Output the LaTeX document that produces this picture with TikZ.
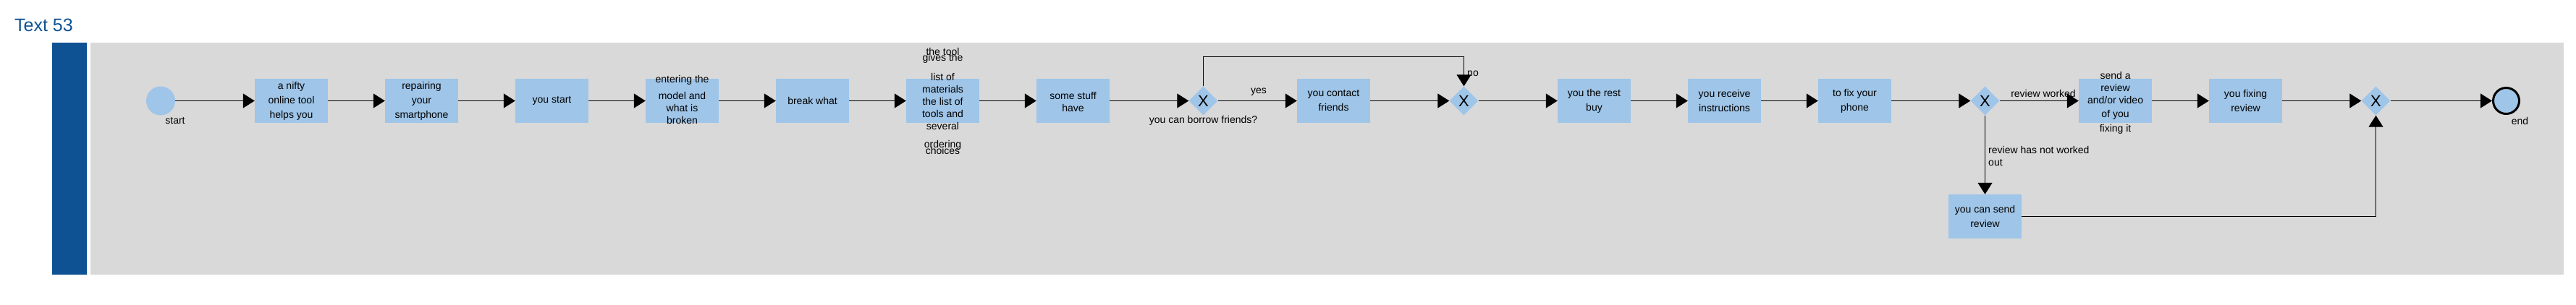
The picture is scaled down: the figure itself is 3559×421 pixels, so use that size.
\documentclass[tikz,border=0pt]{standalone}
\usepackage{fontspec}
\setmainfont{Liberation Sans}
\usetikzlibrary{shapes.geometric,arrows.meta}
\definecolor{taskblue}{HTML}{9FC5E8}
\definecolor{poolgray}{HTML}{D9D9D9}
\definecolor{lanebar}{HTML}{0F5294}
\newcommand\boxfont{\fontsize{14pt}{20pt}\selectfont}
\newcommand\lblfont{\fontsize{14pt}{17pt}\selectfont}
\begin{document}
\begin{tikzpicture}[x=1pt,y=-1pt,
  task/.style={fill=taskblue, draw=none, minimum width=101pt, minimum height=61pt, inner sep=0pt},
  boxtext/.style={align=center, font=\boxfont, text=black, inner sep=0pt},
  gw/.style={diamond, fill=taskblue, draw=none, minimum width=40pt, minimum height=40pt, inner sep=0pt, font=\fontsize{22pt}{22pt}\selectfont},
  flow/.style={line width=1.2pt, draw=black, -{Triangle[length=16pt,width=20pt]}},
  lbl/.style={font=\lblfont, inner sep=0pt, text=black},
  startev/.style={circle, fill=taskblue, draw=none, minimum size=40pt, inner sep=0pt},
  endev/.style={circle, fill=taskblue, draw=black, line width=3pt, minimum size=36pt, inner sep=0pt}]
\useasboundingbox (0,0) rectangle (3559,421);
% title, lane bar, pool
\node[anchor=base west, text=lanebar, font=\fontsize{25pt}{30pt}\selectfont, inner sep=0pt] (title) at (20,43) {Text 53};
\fill[lanebar] (72,59) rectangle (120,380);
\fill[poolgray] (125,59) rectangle (3542,380);
% events
\node[startev] (start) at (222,139.5) {};
\node[lbl] (startlbl) at (242,167) {start};
\node[endev] (end) at (3462.5,139.5) {};
\node[lbl] (endlbl) at (3481.5,167) {end};
% tasks
\node[task, label={[boxtext]center:{a nifty\\online tool\\helps you}}] (t1) at (402.5,139.5) {};
\node[task, label={[boxtext]center:{repairing\\your\\smartphone}}] (t2) at (582.5,139.5) {};
\node[task, label={[boxtext]center:{you start}}] (t3) at (762.5,139.5) {};
\node[task, label={[boxtext,yshift=2pt]center:{entering the\\[3pt]model and\\[-3pt]what is\\[-3pt]broken}}] (t4) at (942.5,139.5) {};
\node[task, label={[boxtext]center:{break what}}] (t5) at (1122.5,139.5) {};
\node[task, label={[boxtext]center:{the tool\\[-12pt]gives the\\[7pt]list of\\[-3pt]materials\\[-3pt]the list of\\[-3pt]tools and\\[-3pt]several\\[5pt]ordering\\[-11pt]choices}}] (t6) at (1302.5,139.5) {};
\node[task, label={[boxtext,yshift=-1pt]center:{some stuff\\[-3pt]have}}] (t7) at (1482.5,139.5) {};
\node[gw] (g1) at (1662.5,139.5) {X};
\node[task, label={[boxtext]center:{you contact\\friends}}] (t8) at (1842.5,139.5) {};
\node[gw] (g2) at (2022.5,139.5) {X};
\node[task, label={[boxtext]center:{you the rest\\buy}}] (t9) at (2202.5,139.5) {};
\node[task, label={[boxtext]center:{you receive\\instructions}}] (t10) at (2382.5,139.5) {};
\node[task, label={[boxtext]center:{to fix your\\phone}}] (t11) at (2562.5,139.5) {};
\node[gw] (g3) at (2742.5,139.5) {X};
\node[task, label={[boxtext,yshift=-3pt]center:{send a\\[-3pt]review\\[-3pt]and/or video\\[-1pt]of you\\fixing it}}] (t12) at (2922.5,139.5) {};
\node[task, label={[boxtext]center:{you fixing\\review}}] (t13) at (3102.5,139.5) {};
\node[gw] (g4) at (3282.5,139.5) {X};
\node[task, label={[boxtext]center:{you can send\\review}}] (t14) at (2742.5,299.5) {};
% flows
\draw[flow] (start) -- (t1);
\draw[flow] (t1) -- (t2);
\draw[flow] (t2) -- (t3);
\draw[flow] (t3) -- (t4);
\draw[flow] (t4) -- (t5);
\draw[flow] (t5) -- (t6);
\draw[flow] (t6) -- (t7);
\draw[flow] (t7) -- (g1);
\draw[flow] (g1) -- (t8);
\draw[flow] (t8) -- (g2);
\draw[flow] (g1.north) -- ++(0,-40.5) -| (g2.north);
\draw[flow] (g2) -- (t9);
\draw[flow] (t9) -- (t10);
\draw[flow] (t10) -- (t11);
\draw[flow] (t11) -- (g3);
\draw[flow] (g3) -- (t12);
\draw[flow] (g3.south) -- (t14.north);
\draw[flow] (t12) -- (t13);
\draw[flow] (t13) -- (g4);
\draw[flow] (t14.east) -| (g4.south);
\draw[flow] (g4) -- (end);
% flow labels
\node[lbl] (yeslbl) at (1739,127) {yes};
\node[lbl] (g1lbl) at (1662.5,167) {you can borrow friends?};
\node[lbl, anchor=west] (nolbl) at (2027,102) {no};
\node[lbl] (worklbl) at (2823,129) {review worked};
\node[lbl, anchor=west, align=left] (notlbl) at (2747,215.5) {review has not worked\\out};
\end{tikzpicture}
\end{document}
